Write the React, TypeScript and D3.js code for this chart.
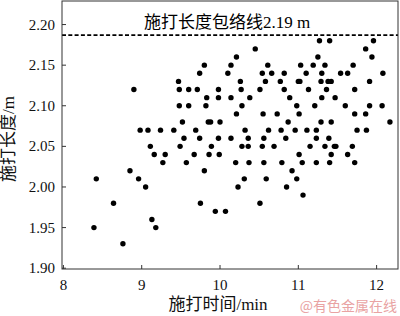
import React from "react";
import * as d3 from "d3";

// Scatter data: injection time (min) vs injection length (m), grouped by length level
const lengthLevels = [2.18, 2.17, 2.16, 2.15, 2.14, 2.13, 2.12, 2.11, 2.10, 2.09, 2.08, 2.07, 2.06, 2.05, 2.04, 2.03, 2.02, 2.01, 2.00, 1.99, 1.98, 1.97, 1.96, 1.95, 1.93];
const timesAt218 = [11.27, 11.40, 11.96];
const timesAt217 = [10.45, 11.86];
const timesAt216 = [10.21, 11.25, 11.94];
const timesAt215 = [9.80, 10.14, 10.61, 11.03, 11.19, 11.34, 11.70];
const timesAt214 = [9.74, 10.10, 10.54, 10.66, 10.82, 11.10, 11.30, 11.54, 11.63, 12.08];
const timesAt213 = [9.47, 10.26, 10.58, 10.77, 11.00, 11.02, 11.29, 11.38, 11.42, 11.91];
const timesAt212 = [8.90, 9.48, 9.60, 9.71, 9.98, 10.27, 10.51, 10.82, 11.13, 11.36, 11.72];
const timesAt211 = [9.83, 9.98, 10.14, 10.38, 10.89, 11.30, 11.47];
const timesAt210 = [9.48, 9.60, 9.82, 10.28, 10.98, 11.21, 11.60, 11.91, 12.07];
const timesAt209 = [10.21, 10.55, 10.73, 11.01, 11.72, 11.86];
const timesAt208 = [9.52, 9.85, 9.88, 10.00, 10.87, 11.29, 11.42, 12.17];
const timesAt207 = [8.98, 9.08, 9.24, 9.41, 9.69, 10.32, 10.62, 10.78, 10.96, 11.11, 11.23, 11.75, 11.87];
const timesAt206 = [9.54, 9.74, 9.98, 10.14, 10.36, 10.56, 10.84, 11.23, 11.39];
const timesAt205 = [9.11, 9.49, 9.89, 10.28, 10.36, 10.54, 10.69, 11.15, 11.34, 11.46, 11.48, 11.69];
const timesAt204 = [9.16, 9.30, 9.67, 9.86, 9.99, 11.01, 11.42, 11.63];
const timesAt203 = [9.27, 9.57, 10.20, 10.37, 10.56, 10.79, 11.05, 11.23, 11.40, 11.72];
const timesAt202 = [8.85, 9.80, 10.92];
const timesAt201 = [8.42, 8.96, 10.31, 10.59, 10.98];
const timesAt200 = [9.05, 10.23, 10.85];
const timesAt199 = [11.06];
const timesAt198 = [8.64, 9.75, 10.51];
const timesAt197 = [9.94, 10.07];
const timesAt196 = [9.13];
const timesAt195 = [8.39, 9.18];
const timesAt193 = [8.76];

const timesByLevel = [
  timesAt218, timesAt217, timesAt216, timesAt215, timesAt214, timesAt213, timesAt212,
  timesAt211, timesAt210, timesAt209, timesAt208, timesAt207, timesAt206, timesAt205,
  timesAt204, timesAt203, timesAt202, timesAt201, timesAt200, timesAt199, timesAt198,
  timesAt197, timesAt196, timesAt195, timesAt193,
];

const xTicks = [8, 9, 10, 11, 12];
const yTicks = [1.9, 1.95, 2.0, 2.05, 2.1, 2.15, 2.2];
const envelopeValue = 2.187;
const envelopeLabel = "施打长度包络线2.19 m";
const xTitle = "施打时间/min";
const yTitle = "施打长度/m";
const watermark = "@有色金属在线";

const W = 400;
const H = 316;
const left = 62;
const right = 398;
const top = 1;
const bottom = 269;

const serif = "'Liberation Serif', 'Times New Roman', 'Noto Sans CJK SC', serif";

export default function App() {
  const x = d3.scaleLinear().domain([7.982, 12.273]).range([left, right]);
  const y = d3.scaleLinear().domain([1.899, 2.229]).range([bottom, top]);

  const points: { t: number; l: number }[] = [];
  lengthLevels.forEach((l, i) => {
    timesByLevel[i].forEach((t) => points.push({ t, l }));
  });

  const tickLen = 4;

  return (
    <svg
      width={W}
      height={H}
      style={{ position: "absolute", left: 0, top: 0, background: "#fff" }}
      fontFamily={serif}
    >
      <rect x={0} y={0} width={W} height={H} fill="#fff" />
      {/* envelope dashed line */}
      <line
        x1={left}
        x2={right}
        y1={y(envelopeValue)}
        y2={y(envelopeValue)}
        stroke="#000"
        strokeWidth={1.7}
        strokeDasharray="4,2.3"
      />
      <text x={144} y={28} fontSize={17} fill="#000">
        {envelopeLabel}
      </text>
      {/* points */}
      {points.map((p, i) => (
        <circle key={i} cx={x(p.t)} cy={y(p.l)} r={2.7} fill="#000" />
      ))}
      {/* frame */}
      <rect
        x={left}
        y={top}
        width={right - left}
        height={bottom - top}
        fill="none"
        stroke="#333"
        strokeWidth={1}
      />
      {/* x ticks */}
      {xTicks.map((t) => (
        <g key={"x" + t}>
          <line x1={x(t)} x2={x(t)} y1={bottom} y2={bottom - tickLen} stroke="#333" />
          <text x={x(t)} y={290} fontSize={15} textAnchor="middle" fill="#111">
            {t}
          </text>
        </g>
      ))}
      {/* y ticks */}
      {yTicks.map((t) => (
        <g key={"y" + t}>
          <line x1={left} x2={left + tickLen} y1={y(t)} y2={y(t)} stroke="#333" />
          <text
            x={55}
            y={y(t)}
            dy="0.33em"
            fontSize={15}
            textAnchor="end"
            fill="#111"
          >
            {d3.format(".2f")(t)}
          </text>
        </g>
      ))}
      {/* axis titles */}
      <text x={218} y={310} fontSize={17} textAnchor="middle" fill="#111">
        {xTitle}
      </text>
      <text
        transform={`translate(14,139) rotate(-90)`}
        fontSize={17}
        textAnchor="middle"
        fill="#111"
      >
        {yTitle}
      </text>
      {/* watermark */}
      <text
        x={397}
        y={311}
        fontSize={14}
        textAnchor="end"
        fill="#e9a3a3"
        fontFamily="'Noto Sans CJK SC', sans-serif"
      >
        {watermark}
      </text>
    </svg>
  );
}
